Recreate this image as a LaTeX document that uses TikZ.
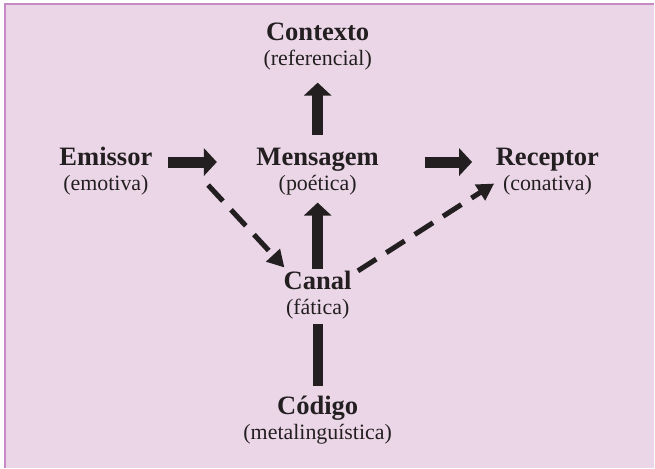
\documentclass[tikz,border=0pt]{standalone}
\usepackage{fontspec}
\setmainfont{Liberation Serif}
\usetikzlibrary{arrows.meta}
\definecolor{panel}{RGB}{235,214,232}
\definecolor{panelrule}{RGB}{200,138,196}
\definecolor{ink}{RGB}{35,31,32}
\tikzset{
  func/.style={anchor=base,inner sep=0pt,text=ink,font=\fontsize{18.9}{22}\selectfont\bfseries,text height=13.2pt,text depth=3.8pt},
  sub/.style={inner sep=0pt,text=ink,font=\fontsize{15.6}{18}\selectfont,text height=11.7pt,text depth=3.9pt},
  bigarrow/.style={draw=ink,line width=7.8pt,-{Triangle[width=19.2pt,length=9.2pt]}},
  dasharrow/.style={draw=ink,line width=3.6pt,dash pattern=on 15.5pt off 8.5pt,-{Triangle[width=12.8pt,length=12pt]}},
  bar/.style={draw=ink,line width=7.2pt},
}

\begin{document}
\begin{tikzpicture}[
  x=0.025cm,y=-0.025cm,
  label distance=1.6pt
]

\fill[white] (0,0) rectangle (655,468);
\fill[panel] (5,4) rectangle (655,468);
\draw[panelrule,line width=1pt] (5,468) -- (5,4) -- (655,4);

\node[func,label={[sub,name=contexto-f]below:(referencial)}] (contexto) at (318,41) {Contexto};

\node[func,label={[sub,name=emissor-f]below:(emotiva)}] (emissor) at (106,166) {Emissor};
\node[func,label={[sub,name=mensagem-f]below:(poética)}] (mensagem) at (318,166) {Mensagem};
\node[func,label={[sub,name=receptor-f]below:(conativa)}] (receptor) at (548,166) {Receptor};

\node[func,label={[sub,name=canal-f]below:(fática)}] (canal) at (318,290) {Canal};
\node[func,label={[sub,name=codigo-f]below:(metalinguística)}] (codigo) at (318,415) {Código};

\path
(mensagem) edge[bigarrow,shorten <=8.8pt,shorten >=8.1pt] (contexto-f)
([yshift=-2pt]emissor.east) edge[bigarrow,shorten <=11pt,shorten >=28pt] ([yshift=-2pt]mensagem.west)
([yshift=-2pt]mensagem.east) edge[bigarrow,shorten <=32.4pt,shorten >=16.7pt] ([yshift=-2pt]receptor.west)

(canal) edge[bigarrow,shorten <=1pt,shorten >=4.6pt] (mensagem-f)
(codigo) edge[bar,shorten <=6.7pt,shorten >=2.5pt] (canal-f)

([xshift=39.5pt,yshift=-9.7pt]emissor.south east) edge[dasharrow] ([xshift=0.7pt,yshift=2.4pt]canal.north west)
([xshift=4.3pt]canal.north east) edge[dasharrow] ([xshift=-6.1pt,yshift=1pt]receptor-f.west);

\end{tikzpicture}
\end{document}
